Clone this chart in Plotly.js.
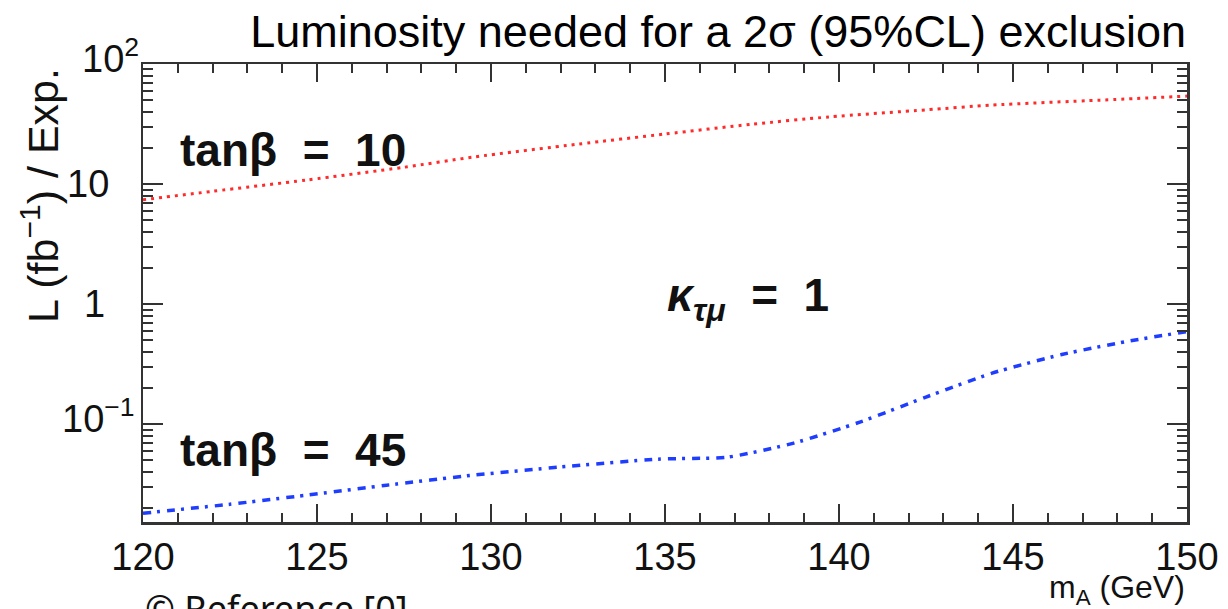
<!DOCTYPE html>
<html>
<head>
<meta charset="utf-8">
<script src="https://cdn.plot.ly/plotly-3.0.1.min.js"></script>
<style>
  html, body { margin: 0; padding: 0; background: #ffffff; }
  #chart { width: 1228px; height: 609px; }
</style>
</head>
<body>
<div id="chart"></div>
<script>
// Pseudoscalar mass m_A (GeV)
const massTan10 = [120, 122, 124.7, 127.5, 129.5, 132.5, 135, 137.5, 139.7, 142.5, 144.4, 147.5, 150];
// Luminosity (fb^-1) for tan(beta) = 10
const lumiTan10 = [7.4, 8.7, 10.8, 13.8, 16.8, 21.5, 26.1, 31.5, 36.2, 41.5, 45.5, 50, 54];

const massTan45 = [120, 122.5, 124.7, 127, 129.5, 132, 134.8, 136.8, 138.7, 140.6, 142.5, 144.4, 146.4, 148.3, 150];
// Luminosity (fb^-1) for tan(beta) = 45
const lumiTan45 = [0.0181, 0.0215, 0.0256, 0.031, 0.0376, 0.044, 0.0511, 0.0531, 0.0695, 0.104, 0.168, 0.266, 0.38, 0.49, 0.59];

const xTickVals = [120, 125, 130, 135, 140, 145, 150];
const xTickText = ['120', '125', '130', '135', '140', '145', '150'];
const yTickVals = [0.1, 1, 10, 100];
const yTickText = ['10<sup>\u22121</sup>', '1', '10', '10<sup>2</sup>'];

// minor ticks at 2..9 of each decade
const yMinor = [];
[0.01, 0.1, 1, 10].forEach(d => { for (let k = 2; k <= 9; k++) yMinor.push(+(d * k).toPrecision(3)); });

const sans = 'Liberation Sans, Arial, sans-serif';
const tickFont = { family: sans, size: 38, color: '#111' };
const frameColor = '#333';
const sp = '\u00a0';

const traces = [
  {
    x: massTan10, y: lumiTan10, type: 'scatter', mode: 'lines',
    line: { color: '#ff2a2a', width: 3, dash: '3px,5px', shape: 'spline', smoothing: 0.7 },
    hoverinfo: 'x+y', showlegend: false
  },
  {
    x: massTan45, y: lumiTan45, type: 'scatter', mode: 'lines',
    line: { color: '#1f3dff', width: 3.5, dash: '8px,6px,3px,7px', shape: 'spline', smoothing: 0.6 },
    hoverinfo: 'x+y', showlegend: false
  }
];

// y tick labels drawn as annotations so each label can sit at its own distance from the axis
const yLabelShift = { '0.1': [-6, 8], '1': [-36, 0], '10': [-32, 0], '100': [-2, 8] };
const yLabelAnnotations = yTickVals.map((v, i) => ({
  text: yTickText[i],
  xref: 'paper', x: 0, xanchor: 'right', xshift: yLabelShift[String(v)][0],
  yref: 'y', y: Math.log10(v), yanchor: 'middle', yshift: yLabelShift[String(v)][1],
  showarrow: false, font: tickFont
}));

const layout = {
  width: 1228, height: 609,
  paper_bgcolor: '#ffffff', plot_bgcolor: '#ffffff',
  margin: { l: 143, r: 41, t: 64, b: 87, pad: 0 },
  title: {
    text: 'Luminosity needed for a 2\u03c3 (95%CL) exclusion',
    font: { family: sans, size: 45, color: '#000' },
    xref: 'container', x: 1186 / 1228, xanchor: 'right',
    yref: 'container', y: 1 - 15 / 609, yanchor: 'top'
  },
  xaxis: {
    type: 'linear', range: [120, 150],
    tickmode: 'array', tickvals: xTickVals, ticktext: xTickText,
    ticks: 'inside', ticklen: 18, tickwidth: 2, tickcolor: frameColor,
    minor: { dtick: 1, tick0: 120, ticks: 'inside', ticklen: 9, tickwidth: 2, tickcolor: frameColor, showgrid: false },
    showline: true, linecolor: frameColor, linewidth: 2.5, mirror: 'allticks',
    showgrid: false, zeroline: false,
    tickfont: tickFont, ticklabelstandoff: 0
  },
  yaxis: {
    type: 'log', range: [Math.log10(0.0153), 2],
    tickmode: 'array', tickvals: yTickVals, ticktext: yTickText, showticklabels: false,
    ticks: 'inside', ticklen: 20, tickwidth: 2, tickcolor: frameColor,
    minor: { tickmode: 'array', tickvals: yMinor, ticks: 'inside', ticklen: 10, tickwidth: 2, tickcolor: frameColor, showgrid: false },
    showline: true, linecolor: frameColor, linewidth: 2.5, mirror: 'allticks',
    showgrid: false, zeroline: false
  },
  annotations: yLabelAnnotations.concat([
    {
      text: 'L (fb<sup>\u22121</sup>) / Exp.', textangle: -90,
      xref: 'paper', x: (40 - 143) / 1044, xanchor: 'center',
      yref: 'paper', y: (522 - 196) / 458, yanchor: 'middle',
      showarrow: false, font: { family: sans, size: 43, color: '#111' }
    },
    {
      text: 'm<sub>A</sub> (GeV)',
      xref: 'paper', x: 1, xanchor: 'right',
      yref: 'paper', y: -(589 - 522) / 458, yanchor: 'middle',
      showarrow: false, font: { family: sans, size: 32, color: '#111' }
    },
    {
      text: '<b>tan\u03b2' + sp + ' = ' + sp + '10</b>',
      x: 121, xanchor: 'left', y: 1.28, yanchor: 'middle',
      showarrow: false, font: { family: sans, size: 46, color: '#111' }
    },
    {
      text: '<b>tan\u03b2' + sp + ' = ' + sp + '45</b>',
      x: 121, xanchor: 'left', y: Math.log10(0.061), yanchor: 'middle',
      showarrow: false, font: { family: sans, size: 46, color: '#111' }
    },
    {
      text: '<b><i>\u03ba<sub>\u03c4\u03bc</sub></i>' + sp + ' = ' + sp + '1</b>',
      x: 135.0, xanchor: 'left', y: Math.log10(1.12), yanchor: 'middle',
      showarrow: false, font: { family: sans, size: 46, color: '#111' }
    },
    {
      text: '\u00a9 Reference [0]',
      xref: 'paper', x: 0, xanchor: 'left',
      yref: 'paper', y: -(582 - 522) / 458, yanchor: 'top',
      showarrow: false, font: { family: 'Noto Sans, sans-serif', size: 36, color: '#111' }
    }
  ])
};

Plotly.newPlot('chart', traces, layout, { displayModeBar: false, staticPlot: true });
</script>
</body>
</html>
